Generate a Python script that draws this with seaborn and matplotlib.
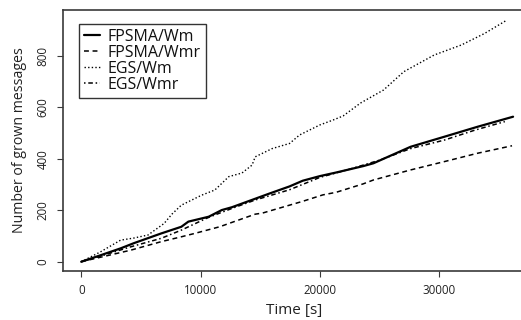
import numpy as np
import pandas as pd
import matplotlib
matplotlib.use("Agg")
import matplotlib.pyplot as plt
import seaborn as sns

# ---- data ----
egs_wm_t = [0, 1600, 3300, 4400, 5600, 6950, 7600, 8390, 10100, 11200, 12370, 13470,
            14320, 14580, 16000, 17460, 18300, 20000, 21100, 21950, 23400, 25340,
            27030, 29580, 31860, 33810, 35680]
egs_wm_v = [0, 38, 84, 92, 104, 149, 185, 220, 259, 279, 331, 345,
            376, 408, 440, 460, 493, 532, 551, 567, 617, 668,
            739, 804, 843, 888, 940]

fp_wm_t = [0, 1610, 3300, 4400, 6700, 8390, 8980, 10680, 11780, 12630, 15760, 17460,
           18560, 20000, 21360, 23640, 24490, 27600, 30420, 33220, 36190]
fp_wm_v = [0, 25, 52, 72, 110, 136, 156, 175, 201, 212, 265, 293,
           315, 333, 347, 372, 383, 447, 486, 525, 564]

fp_wmr_t = [0, 4150, 6700, 8390, 9500, 11600, 12630, 14580, 15170, 18560, 20250, 21360,
            23640, 24490, 27600, 31000, 33220, 36100]
fp_wmr_v = [0, 45, 78, 97, 110, 136, 153, 185, 189, 235, 260, 270,
            303, 318, 357, 396, 422, 451]

egs_wmr_t = [0, 1500, 4150, 6700, 8390, 10500, 11200, 12900, 14580, 17460, 20000,
             22500, 25000, 27600, 30420, 33000, 35500]
egs_wmr_v = [0, 20, 58, 91, 123, 169, 182, 212, 240, 280, 328,
             360, 395, 440, 473, 512, 545]

series_names = ["FPSMA/Wm", "FPSMA/Wmr", "EGS/Wm", "EGS/Wmr"]
x_ticks = [0, 10000, 20000, 30000]
y_ticks = [0, 200, 400, 600, 800]

frames = []
for name, t, v in [("FPSMA/Wm", fp_wm_t, fp_wm_v), ("FPSMA/Wmr", fp_wmr_t, fp_wmr_v),
                   ("EGS/Wm", egs_wm_t, egs_wm_v), ("EGS/Wmr", egs_wmr_t, egs_wmr_v)]:
    frames.append(pd.DataFrame({"time": t, "value": v, "series": name}))
df = pd.concat(frames, ignore_index=True)

sns.set_style("white")
plt.rcParams["font.family"] = ["Open Sans", "DejaVu Sans"]

fig = plt.figure(figsize=(5.21, 3.2), dpi=100)
ax = fig.add_axes([63 / 521, 49 / 320, 1 - 63 / 521 + 0.01, 261 / 320])

styles = {
    "FPSMA/Wm": dict(lw=1.6, dashes=None),
    "FPSMA/Wmr": dict(lw=1.1, dashes=(3.2, 2.4)),
    "EGS/Wm": dict(lw=1.0, dashes=(1.0, 1.6)),
    "EGS/Wmr": dict(lw=1.1, dashes=(1.0, 1.8, 3.0, 1.8)),
}
for name in series_names:
    sub = df[df["series"] == name]
    st = styles[name]
    sns.lineplot(data=sub, x="time", y="value", ax=ax, color="black",
                 lw=st["lw"], label=name, estimator=None, sort=False)
    line = ax.get_lines()[-1]
    if st["dashes"] is not None:
        line.set_dashes(st["dashes"])

ax.set_xlim(-1525, 37290)
ax.set_ylim(-36, 979)
ax.set_xticks(x_ticks)
ax.set_yticks(y_ticks)
ax.set_xticklabels([str(v) for v in x_ticks])
ax.set_yticklabels([str(v) for v in y_ticks], rotation=90, va="center")

for s in ax.spines.values():
    s.set_color("#3a3a3a")
    s.set_linewidth(1.2)
ax.spines["right"].set_visible(False)

ax.tick_params(axis="both", which="both", direction="out", length=4.5, width=0.8,
               color="#3a3a3a", labelsize=8.3, labelcolor="#222222",
               bottom=True, left=True)
ax.tick_params(axis="x", pad=5)
ax.tick_params(axis="y", pad=5)

ax.set_xlabel("Time [s]", fontsize=11, color="#222222", labelpad=4)
ax.set_ylabel("Number of grown messages", fontsize=10.2, color="#222222", labelpad=7)

leg = ax.legend(loc="upper left", bbox_to_anchor=(16 / 458, 1 - 14 / 261),
                fontsize=11.5, frameon=True, fancybox=False, handlelength=1.0,
                handletextpad=0.5, labelspacing=0.0, borderpad=0.3,
                borderaxespad=0)
leg.get_frame().set_edgecolor("black")
leg.get_frame().set_linewidth(1.0)
for txt in leg.get_texts():
    txt.set_color("#111111")

fig.savefig("out.png", dpi=100)
